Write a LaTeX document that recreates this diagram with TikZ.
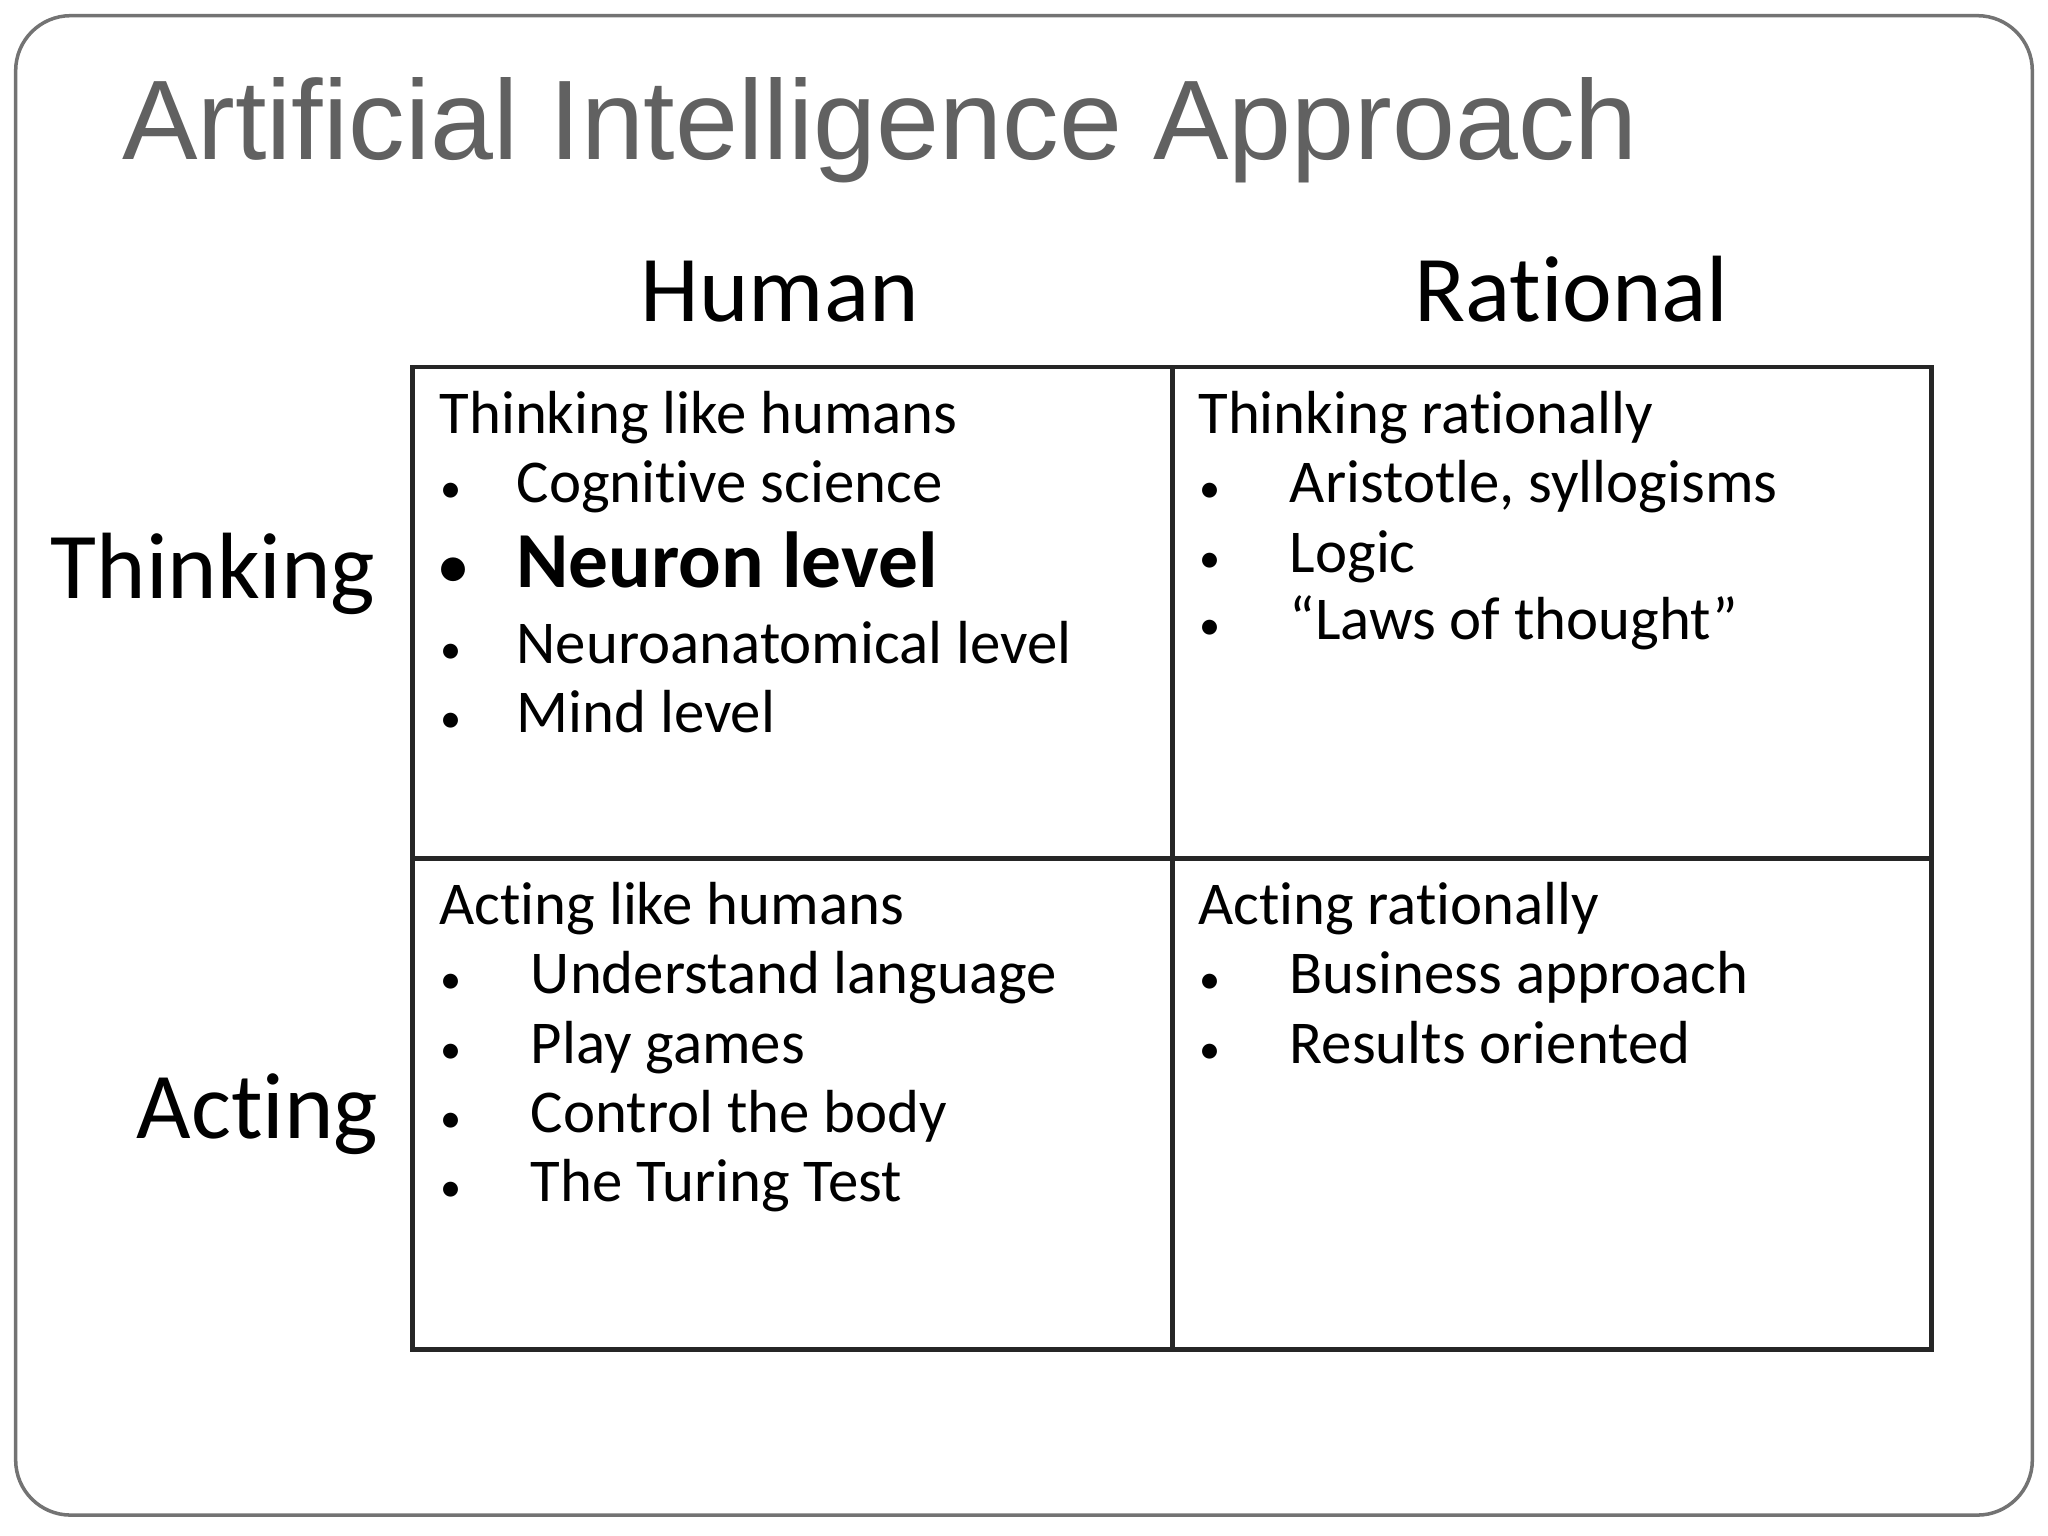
\documentclass[tikz,border=0pt]{standalone}
\usepackage{fontspec}
\setmainfont[Ligatures=NoCommon]{Carlito}
\newfontfamily\titlefont{Liberation Sans}
\begin{document}
\begin{tikzpicture}[x=0.013061cm,y=-0.013061cm,
  cell/.style={anchor=base west,inner sep=0pt,font=\fontsize{17.3}{19}\selectfont},
  bul/.style={anchor=base west,inner sep=0pt,font=\fontsize{12}{14}\selectfont},
  hdr/.style={anchor=base,inner sep=0pt,font=\fontsize{26.8}{30}\selectfont},
  side/.style={anchor=base east,inner sep=0pt,font=\fontsize{26.8}{30}\selectfont},
  grid/.style={line width=1.4pt,draw=black!85}]
\useasboundingbox (0,0) rectangle (1568,1176);
\draw[draw=black!55,line width=1pt,rounded corners=0.55cm] (12,12) rectangle (1556,1160);
\node[anchor=base west,inner sep=0pt,text=black!62,font=\titlefont\fontsize{32.2}{34}\selectfont] (title) at (93,122) {Artificial Intelligence Approach};
\node[hdr] (human) at (597,246) {Human};
\node[hdr] (rational) at (1203,246) {Rational};
\node[side] (thinking) at (288,458) {Thinking};
\node[side] (acting) at (290,872) {Acting};
\draw[grid] (316,281) rectangle (1479,1033);
\draw[grid] (898,281) -- (898,1033);
\draw[grid] (316,657) -- (1479,657);
% top-left
\node[cell] (tl) at (336,332) {Thinking like humans};
\foreach \t/\y/\n in {Cognitive science/385/a, Neuroanatomical level/508/c, Mind level/561/d}{
  \node[bul] (tlb\n) at (337,\y) {•};
  \node[cell] (tlt\n) at (395,\y) {\t};}
\node[anchor=base west,inner sep=0pt,font=\fontsize{16}{18}\selectfont\bfseries] (tlbb) at (336,448) {•};
\node[anchor=base west,inner sep=0pt,font=\fontsize{22.6}{24}\selectfont\bfseries] (tltb) at (395,450) {Neuron level};
% top-right
\node[cell] (tr) at (917,332) {Thinking rationally};
\foreach \t/\y/\n in {{Aristotle, syllogisms}/385/a, Logic/438/b, “Laws of thought”/490/c}{
  \node[bul] (trb\n) at (918,\y) {•};
  \node[cell] (trt\n) at (987,\y) {\t};}
% bottom-left
\node[cell] (bl) at (336,708) {Acting like humans};
\foreach \t/\y/\n in {Understand language/761/a, Play games/814/b, Control the body/867/c, The Turing Test/920/d}{
  \node[bul] (blb\n) at (337,\y) {•};
  \node[cell] (blt\n) at (406,\y) {\t};}
% bottom-right
\node[cell] (br) at (917,708) {Acting rationally};
\foreach \t/\y/\n in {Business approach/761/a, Results oriented/814/b}{
  \node[bul] (brb\n) at (918,\y) {•};
  \node[cell] (brt\n) at (987,\y) {\t};}
\end{tikzpicture}
\end{document}
